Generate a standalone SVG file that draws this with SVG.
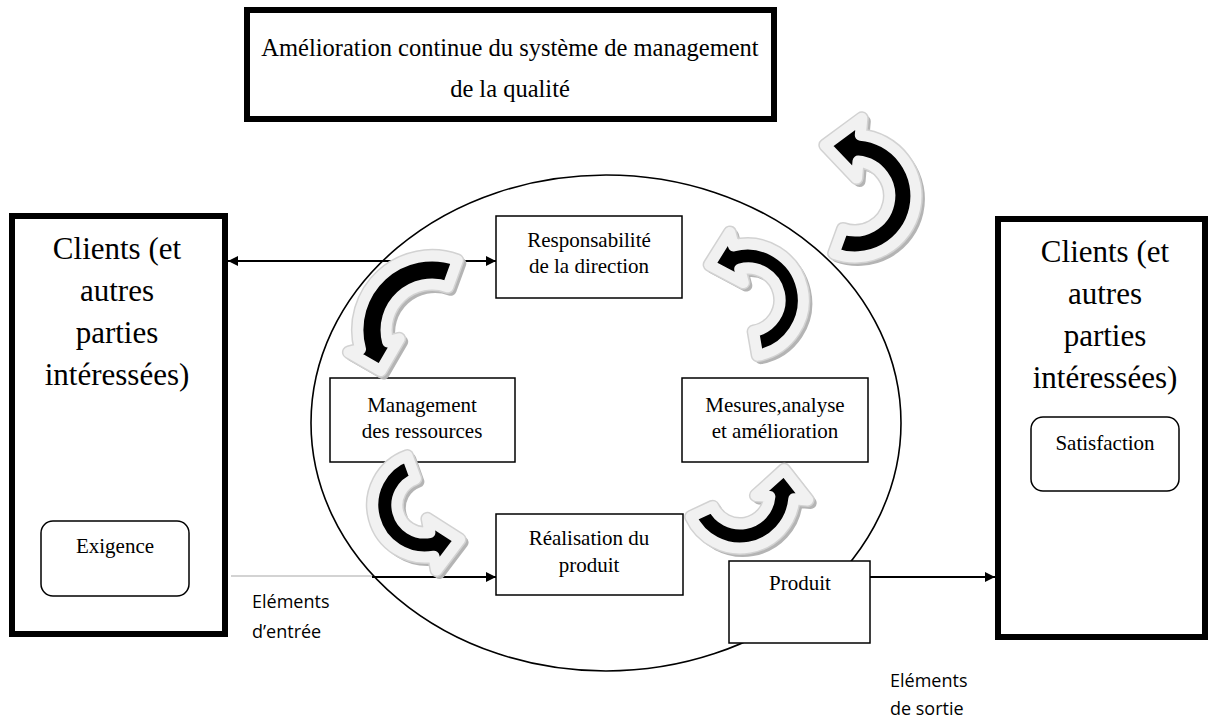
<svg xmlns="http://www.w3.org/2000/svg" width="1209" height="720" viewBox="0 0 1209 720">
  <style>
    .thick { fill: #fff; stroke: #000; stroke-width: 6; }
    .box { fill: #fff; stroke: #000; stroke-width: 1.5; }
    .rbox { fill: #fff; stroke: #000; stroke-width: 1.5; }
    .serif { font-family: "Liberation Serif", "Times New Roman", serif; fill: #000; text-anchor: middle; }
    .big { font-size: 31px; }
    .title { font-size: 24.5px; }
    .small { font-size: 21px; }
    .note { font-family: "Open Sans", "Liberation Sans", sans-serif; font-size: 18px; fill: #000; }
    .line { stroke: #000; stroke-width: 1.8; fill: none; }
    .cshadow { fill: #b4b4b4; stroke: #b4b4b4; stroke-width: 12; stroke-linejoin: round; }
    .cedge { fill: #d2d2d2; stroke: #d2d2d2; stroke-width: 14; stroke-linejoin: round; }
    .cbody { fill: #000; stroke: #f1f1f1; stroke-width: 11; stroke-linejoin: round; }
  </style>
  <defs>
    <marker id="head" viewBox="0 0 10 10" refX="10" refY="5" markerWidth="11" markerHeight="10" markerUnits="userSpaceOnUse" orient="auto-start-reverse">
      <path d="M0,0 L10,5 L0,10 Z" fill="#000"/>
    </marker>
    <!-- curved cycle arrows -->
    <path id="ca1" d="M 834.1,253.3 A 61 61 0 1 0 860.3,135.2 L 861.8,118.3 L 825.3,145.2 L 856.6,178.1 L 858.0,161.1 A 35 35 0 1 1 843.0,228.9 Z"/>
    <path id="ca2" d="M 457.3,260.4 A 74 74 0 0 0 360.5,349.2 L 348.9,352.3 L 380.7,370.6 L 399.2,338.8 L 387.6,341.9 A 46 46 0 0 1 447.7,286.8 Z"/>
    <path id="ca3" d="M 757.7,355.2 A 56 56 0 1 0 733.5,245.9 L 729.9,232.4 L 709.6,264.8 L 743.3,282.6 L 739.7,269.1 A 32 32 0 1 1 753.6,331.5 Z"/>
    <path id="ca4" d="M 407.2,456.1 A 52 52 0 0 0 434.0,556.2 L 436.5,570.0 L 459.6,539.5 L 427.4,518.8 L 429.9,532.6 A 28 28 0 0 1 415.4,478.7 Z"/>
    <path id="ca5" d="M 691.1,516.8 A 54 54 0 0 0 793.8,498.7 L 807.7,499.9 L 784.2,469.8 L 755.9,495.4 L 769.9,496.6 A 30 30 0 0 1 712.8,506.7 Z"/>
  </defs>

  <rect width="1209" height="720" fill="#fff"/>

  <!-- process ellipse -->
  <ellipse id="process" cx="606" cy="423" rx="295" ry="248" fill="#fff" stroke="#000" stroke-width="1.6"/>

  <!-- connectors -->
  <g id="connectors">
    <line class="line" x1="228" y1="261" x2="496" y2="261" marker-start="url(#head)" marker-end="url(#head)"/>
    <line x1="231" y1="576" x2="372" y2="576" stroke="#c4c4c4" stroke-width="1.3"/>
    <line class="line" x1="372" y1="577" x2="496" y2="577" marker-end="url(#head)"/>
    <line class="line" x1="870" y1="577" x2="995" y2="577" marker-end="url(#head)"/>
  </g>

  <g id="title">
    <rect class="thick" x="247" y="10" width="527" height="109"/>
    <text class="serif title" x="510" y="56">Amélioration continue du système de management</text>
    <text class="serif title" x="510" y="97">de la qualité</text>
  </g>

  <g id="clients-in">
    <rect class="thick" x="12" y="216" width="213" height="418"/>
    <text class="serif big" x="117" y="259">Clients (et</text>
    <text class="serif big" x="117" y="301">autres</text>
    <text class="serif big" x="117" y="343">parties</text>
    <text class="serif big" x="117" y="385">intéressées)</text>
  </g>
  <g id="exigence">
    <rect class="rbox" x="41" y="521" width="148" height="75" rx="12"/>
    <text class="serif small" x="115" y="553">Exigence</text>
  </g>

  <g id="clients-out">
    <rect class="thick" x="998" y="219" width="207" height="418"/>
    <text class="serif big" x="1105" y="262">Clients (et</text>
    <text class="serif big" x="1105" y="304">autres</text>
    <text class="serif big" x="1105" y="346">parties</text>
    <text class="serif big" x="1105" y="388">intéressées)</text>
  </g>
  <g id="satisfaction">
    <rect class="rbox" x="1031" y="417" width="148" height="74" rx="12"/>
    <text class="serif small" x="1105" y="450">Satisfaction</text>
  </g>

  <g id="responsabilite">
    <rect class="box" x="496" y="216" width="186" height="82"/>
    <text class="serif small" x="589" y="247">Responsabilité</text>
    <text class="serif small" x="589" y="273">de la direction</text>
  </g>
  <g id="ressources">
    <rect class="box" x="330" y="378" width="185" height="84"/>
    <text class="serif small" x="422" y="412">Management</text>
    <text class="serif small" x="422" y="438">des ressources</text>
  </g>
  <g id="mesures">
    <rect class="box" x="682" y="378" width="186" height="84"/>
    <text class="serif small" x="775" y="412">Mesures,analyse</text>
    <text class="serif small" x="775" y="438">et amélioration</text>
  </g>
  <g id="realisation">
    <rect class="box" x="496" y="514" width="187" height="81"/>
    <text class="serif small" x="589" y="545">Réalisation du</text>
    <text class="serif small" x="589" y="572">produit</text>
  </g>
  <g id="produit">
    <rect class="box" x="729" y="561" width="141" height="82"/>
    <text class="serif small" x="800" y="590">Produit</text>
  </g>

  <!-- cycle arrows: shadow, bevel edge, black body -->
  <g id="cycle-arrows">
    <g id="arrow-amelioration">
      <use href="#ca1" class="cshadow" transform="translate(3,3)"/>
      <use href="#ca1" class="cedge"/>
      <use href="#ca1" class="cbody"/>
    </g>
    <g id="arrow-resp-ress">
      <use href="#ca2" class="cshadow" transform="translate(3,3)"/>
      <use href="#ca2" class="cedge"/>
      <use href="#ca2" class="cbody"/>
    </g>
    <g id="arrow-mes-resp">
      <use href="#ca3" class="cshadow" transform="translate(3,3)"/>
      <use href="#ca3" class="cedge"/>
      <use href="#ca3" class="cbody"/>
    </g>
    <g id="arrow-ress-real">
      <use href="#ca4" class="cshadow" transform="translate(3,3)"/>
      <use href="#ca4" class="cedge"/>
      <use href="#ca4" class="cbody"/>
    </g>
    <g id="arrow-real-mes">
      <use href="#ca5" class="cshadow" transform="translate(3,3)"/>
      <use href="#ca5" class="cedge"/>
      <use href="#ca5" class="cbody"/>
    </g>
  </g>

  <g id="labels">
    <text class="note" x="252" y="608">Eléments</text>
    <text class="note" x="252" y="638">d’entrée</text>
    <text class="note" x="890" y="687">Eléments</text>
    <text class="note" x="890" y="715">de sortie</text>
  </g>
</svg>
